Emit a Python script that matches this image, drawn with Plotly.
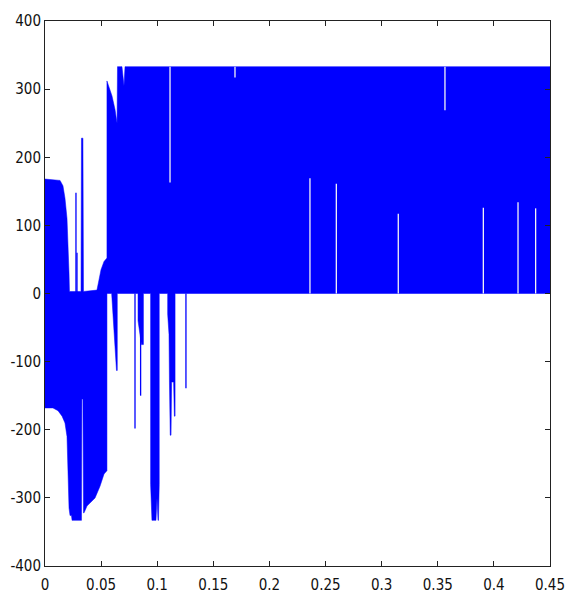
import plotly.graph_objects as go

BLUE = "#0000FF"

# ---- data ----
# upper envelope of the switching waveform (time s, value)
t_top = [0.0, 0.0134, 0.0160, 0.0178, 0.0196, 0.0205, 0.0214, 0.0218, 0.0321, 0.0325,
         0.0338, 0.0343, 0.0463, 0.0481, 0.0499, 0.0526, 0.0552, 0.0552, 0.0597, 0.0624,
         0.0642, 0.0646, 0.0686, 0.0704, 0.0713, 0.45]
v_top = [168, 166, 158, 140, 110, 80, 30, 3, 3, 228,
         228, 3, 5, 20, 35, 47, 52, 312, 290, 270,
         250, 333, 333, 305, 333, 333]

# lower envelope (time s, value), left to right
t_bot = [0.0, 0.0071, 0.0116, 0.0152, 0.0178, 0.0196, 0.0205, 0.0214, 0.0223, 0.0236,
         0.0241, 0.0285, 0.0325, 0.0329, 0.0338, 0.0343, 0.0348, 0.0374, 0.0401, 0.0446,
         0.0490, 0.0526, 0.0552, 0.0552,
         0.0594, 0.0637, 0.0644, 0.0644,
         0.0829, 0.0829, 0.0859, 0.0877, 0.0877,
         0.0941, 0.0941, 0.0953, 0.0989, 0.0998, 0.1007, 0.1011, 0.1018, 0.1018,
         0.1093, 0.1093, 0.1105, 0.1109, 0.1116, 0.1123, 0.1128, 0.1146, 0.1153, 0.1159, 0.1159,
         0.45]
v_bot = [-168, -168, -172, -180, -190, -210, -250, -315, -326, -326,
         -333, -333, -333, -155, -155, -322, -322, -312, -308, -300,
         -283, -265, -260, 0,
         0, -113, -113, 0,
         0, -40, -75, -75, 0,
         0, -280, -333, -333, -300, -333, -333, -280, 0,
         0, -30, -60, -130, -208, -208, -130, -130, -180, -180, 0,
         0]

# thin blue spikes: time, from, to
spike_t = [0.0276, 0.0285, 0.0802, 0.0852, 0.1256]
spike_lo = [0, 0, -198, -150, -139]
spike_hi = [148, 60, 0, 0, 0]

# white gaps in the fill: time, from, to
gap_t = [0.1114, 0.1693, 0.2361, 0.2596, 0.3148, 0.3564, 0.3906, 0.4215, 0.4372]
gap_lo = [163, 317, 0, 0, 0, 269, 0, 0, 0]
gap_hi = [333, 333, 169, 161, 117, 333, 126, 134, 125]

x_ticks = [0, 0.05, 0.1, 0.15, 0.2, 0.25, 0.3, 0.35, 0.4, 0.45]
x_labels = ["0", "0.05", "0.1", "0.15", "0.2", "0.25", "0.3", "0.35", "0.4", "0.45"]
y_ticks = [400, 300, 200, 100, 0, -100, -200, -300, -400]
y_labels = ["400", "300", "200", "100", "0", "-100", "-200", "-300", "-400"]


def segs(ts, lo, hi):
    xs, ys = [], []
    for t, a, b in zip(ts, lo, hi):
        xs += [t, t, None]
        ys += [a, b, None]
    return xs, ys


fig = go.Figure()
poly_x = t_top + t_bot[::-1]
poly_y = v_top + v_bot[::-1]
fig.add_trace(go.Scatter(x=poly_x, y=poly_y, fill="toself", fillcolor=BLUE,
                         mode="lines", line=dict(color=BLUE, width=0.5),
                         hoverinfo="skip", showlegend=False))
sx, sy = segs(spike_t, spike_lo, spike_hi)
fig.add_trace(go.Scatter(x=sx, y=sy, mode="lines", line=dict(color=BLUE, width=1.3),
                         hoverinfo="skip", showlegend=False))
gx, gy = segs(gap_t, gap_lo, gap_hi)
fig.add_trace(go.Scatter(x=gx, y=gy, mode="lines", line=dict(color="#F4F4F4", width=1.3),
                         hoverinfo="skip", showlegend=False))

axis_common = dict(showgrid=False, zeroline=False, showline=True, linecolor="#222222",
                   linewidth=1, mirror="ticks", ticks="inside", ticklen=5, automargin=False,
                   tickcolor="#222222",
                   tickfont=dict(family="DejaVu Sans Condensed, Liberation Sans Narrow, Liberation Sans",
                                 size=15, color="#111111"))
fig.update_xaxes(range=[0, 0.45], tickvals=x_ticks, ticktext=x_labels,
                 ticklabelstandoff=5, **axis_common)
fig.update_yaxes(range=[-400, 400], tickvals=y_ticks, ticktext=y_labels, **axis_common)
fig.update_layout(width=566, height=596, margin=dict(l=45, r=16, t=21, b=30),
                  paper_bgcolor="white", plot_bgcolor="white")
fig.write_html("out.html", config={"displayModeBar": False, "staticPlot": True},
               post_script="document.body.style.margin='0';document.body.style.overflow='hidden';")
